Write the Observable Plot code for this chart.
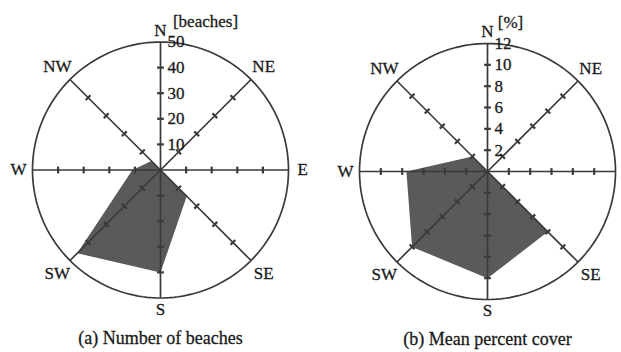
<!DOCTYPE html>
<html>
<head>
<meta charset="utf-8">
<script src="https://cdn.jsdelivr.net/npm/d3@7"></script>
<script src="https://cdn.jsdelivr.net/npm/@observablehq/plot@0.6"></script>
<style>
  html, body { margin: 0; padding: 0; background: #fff; overflow: hidden; }
  #wrap { position: relative; width: 621px; height: 352px; overflow: hidden; background: #fff; }
  #wrap svg { position: absolute; }
</style>
</head>
<body>
<div id="wrap"></div>
<script>
// ---- data ----
const directions = ["N", "NE", "E", "SE", "S", "SW", "W", "NW"];
const beachCounts = [0, 0, 0, 14.5, 40, 46, 11, 5];
const coverPercent = [0, 0, 0, 8, 10, 10, 7.6, 2];
const beachTicks = [10, 20, 30, 40, 50];
const coverTicks = [2, 4, 6, 8, 10, 12];
const beachUnit = "[beaches]";
const coverUnit = "[%]";
const beachCaption = "(a) Number of beaches";
const coverCaption = "(b) Mean percent cover";

const FONT = "Liberation Serif, Times New Roman, serif";
const INK = "#3a3a3a";
const FILL = "#5a5a5a";
const TXT = "#1a1a1a";

function radar({values, ticks, unit, caption, left, top, unitDx, unitDy}) {
  const max = ticks[ticks.length - 1];
  const R = 128; // pixel radius
  const width = 320, height = 352;
  const marginLeft = 32, marginRight = width - 32 - 2 * R;
  const marginTop = top, marginBottom = height - top - 2 * R;
  const rad = (i) => i * Math.PI / 4;
  const px = max / R; // data units per pixel
  const rows = directions.map((d, i) => ({dir: d, i, v: values[i]}));
  const circle = d3.range(0, 361, 2);
  const tickMarks = [];
  directions.forEach((d, i) => ticks.slice(0, -1).forEach(t => tickMarks.push({i, t})));
  const half = 3.4 * px;
  const labelR = (i) => (i % 2 === 0 ? (i === 2 || i === 6 ? 1.11 : 1.09) : 1.14) * max;

  const svg = Plot.plot({
    width, height, marginLeft, marginRight, marginTop, marginBottom,
    x: {domain: [-max, max], axis: null},
    y: {domain: [-max, max], axis: null},
    style: {fontFamily: FONT, fontSize: "17px", background: "transparent", color: INK},
    marks: [
      Plot.line(rows, {
        x: d => d.v * Math.sin(rad(d.i)), y: d => d.v * Math.cos(rad(d.i)),
        curve: "linear-closed", fill: FILL, stroke: "none"
      }),
      Plot.line(circle, {
        x: a => max * Math.sin(a * Math.PI / 180), y: a => max * Math.cos(a * Math.PI / 180),
        stroke: INK, strokeWidth: 1.7
      }),
      Plot.link(rows, {
        x1: () => 0, y1: () => 0,
        x2: d => max * Math.sin(rad(d.i)), y2: d => max * Math.cos(rad(d.i)),
        stroke: INK, strokeWidth: 1.7
      }),
      Plot.link(tickMarks, {
        x1: d => d.t * Math.sin(rad(d.i)) + half * Math.cos(rad(d.i)),
        y1: d => d.t * Math.cos(rad(d.i)) - half * Math.sin(rad(d.i)),
        x2: d => d.t * Math.sin(rad(d.i)) - half * Math.cos(rad(d.i)),
        y2: d => d.t * Math.cos(rad(d.i)) + half * Math.sin(rad(d.i)),
        stroke: INK, strokeWidth: 2.2
      }),
      Plot.text(rows, {
        x: d => labelR(d.i) * Math.sin(rad(d.i)), y: d => labelR(d.i) * Math.cos(rad(d.i)),
        text: "dir", fill: TXT, fontSize: 17, textAnchor: "middle", lineAnchor: "middle",
        stroke: TXT, strokeWidth: 0.3
      }),
      Plot.text(ticks, {
        x: () => 0, y: t => t, text: t => String(t), fill: TXT,
        fontSize: 17, textAnchor: "start", lineAnchor: "middle", dx: 7,
        stroke: TXT, strokeWidth: 0.3
      }),
      Plot.text([unit], {
        x: () => 0, y: () => max, text: d => d, fill: TXT,
        fontSize: 17, textAnchor: "middle", lineAnchor: "middle", dx: unitDx, dy: unitDy,
        stroke: TXT, strokeWidth: 0.3
      }),
      Plot.text([caption], {
        frameAnchor: "bottom", text: d => d, fill: TXT,
        fontSize: 18, textAnchor: "middle", lineAnchor: "middle", dy: 40,
        stroke: TXT, strokeWidth: 0.3
      })
    ]
  });
  svg.style.left = left + "px";
  svg.style.top = "0px";
  return svg;
}

const wrap = document.getElementById("wrap");
wrap.appendChild(radar({values: beachCounts, ticks: beachTicks, unit: beachUnit, caption: beachCaption,
  left: 0, top: 41.5, unitDx: 45, unitDy: -20.5}));
wrap.appendChild(radar({values: coverPercent, ticks: coverTicks, unit: coverUnit, caption: coverCaption,
  left: 327, top: 43, unitDx: 23, unitDy: -21}));
</script>
</body>
</html>
